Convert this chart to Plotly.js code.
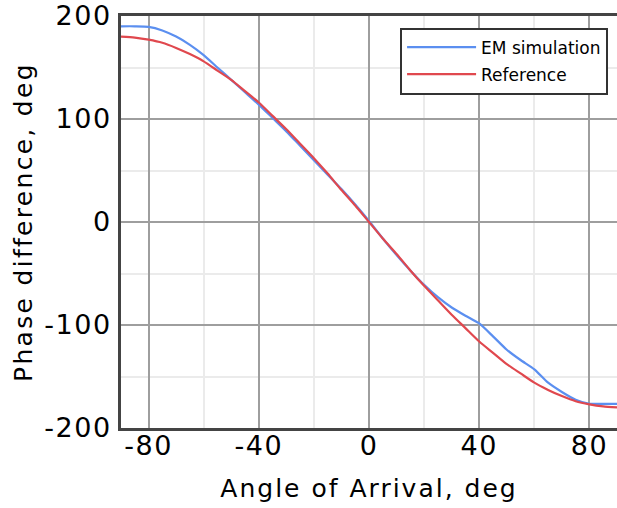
<!DOCTYPE html>
<html>
<head>
<meta charset="utf-8">
<script src="https://cdn.plot.ly/plotly-3.0.1.min.js"></script>
<style>
html,body{margin:0;padding:0;overflow:hidden;background:#fff;}
#chart{width:617px;height:508px;}
.xtick text, .ytick text { letter-spacing: 1.5px; }
.xtitle { letter-spacing: 2.0px; }
.ytitle { letter-spacing: 2.3px; }
</style>
</head>
<body>
<div id="chart"></div>
<script>
const angles = [-90,-85,-80,-75,-70,-65,-60,-55,-50,-45,-40,-35,-30,-25,-20,-15,-10,-5,0,5,10,15,20,25,30,35,40,45,50,55,60,65,70,75,80,85,90];
const emSimulation = [190,190,189.5,186,180,172,162,150,138,126,114,101,88,74,60,46,32,17,1,-16,-32,-47,-61,-73,-83,-91,-98.5,-111,-124,-134,-143,-156,-165,-172.5,-176.5,-176.5,-176.5];
const reference = [180,179,177,174,169,163,156,147,138,127,116,103,90,76,62,47,31,16,0,-16,-31,-47,-62,-76,-90,-103,-116,-127,-138,-147,-156,-163,-169,-174,-177,-179,-180];
const xTickVals = [-80,-40,0,40,80];
const xTickText = ['-80','-40','0','40','80'];
const yTickVals = [200,100,0,-100,-200];
const yTickText = ['200','100','0','-100','-200'];

const font = 'DejaVu Sans, sans-serif';
const traces = [
  {x: angles, y: emSimulation, name: 'EM simulation', type: 'scatter', mode: 'lines', legendgroup: 'a',
   line: {color: '#5b8ff0', width: 2.2, shape: 'spline', smoothing: 0.6}},
  {x: angles, y: reference, name: 'Reference', type: 'scatter', mode: 'lines', legendgroup: 'b',
   line: {color: '#e0484e', width: 2.2, shape: 'spline', smoothing: 0.6}}
];
const layout = {
  width: 617, height: 508,
  margin: {l: 121, r: 0, t: 16, b: 80},
  paper_bgcolor: '#fff', plot_bgcolor: '#fff',
  font: {family: font, color: '#000', size: 26},
  showlegend: true,
  legend: {x: 0.982, y: 0.972, xanchor: 'right', yanchor: 'top',
    bgcolor: '#fff', bordercolor: '#333', borderwidth: 2,
    font: {family: font, size: 17, color: '#000'}, itemwidth: 69, tracegroupgap: 2},
  xaxis: {range: [-90, 90], tickmode: 'array', tickvals: xTickVals, ticktext: xTickText,
    showgrid: true, gridcolor: '#9e9e9e', gridwidth: 2,
    minor: {dtick: 20, tick0: 0, showgrid: true, gridcolor: '#ebebeb', gridwidth: 2},
    showline: true, mirror: true, linecolor: '#444', linewidth: 3,
    zeroline: false, ticks: '', ticklabelstandoff: -8,
    tickfont: {family: font, size: 27, color: '#000'},
    title: {text: 'Angle of Arrival, deg', font: {family: font, size: 25, color: '#000'}, standoff: 20}},
  yaxis: {range: [-200, 200], tickmode: 'array', tickvals: yTickVals, ticktext: yTickText,
    showgrid: true, gridcolor: '#9e9e9e', gridwidth: 2,
    minor: {dtick: 50, tick0: 0, showgrid: true, gridcolor: '#ebebeb', gridwidth: 2},
    showline: true, mirror: false, linecolor: '#444', linewidth: 3,
    zeroline: false, ticks: '', ticklabelstandoff: 1,
    tickfont: {family: font, size: 27, color: '#000'},
    title: {text: 'Phase difference, deg', font: {family: font, size: 25, color: '#000'}, standoff: 5}}
};
Plotly.newPlot('chart', traces, layout, {displayModeBar: false, staticPlot: true});
</script>
</body>
</html>
